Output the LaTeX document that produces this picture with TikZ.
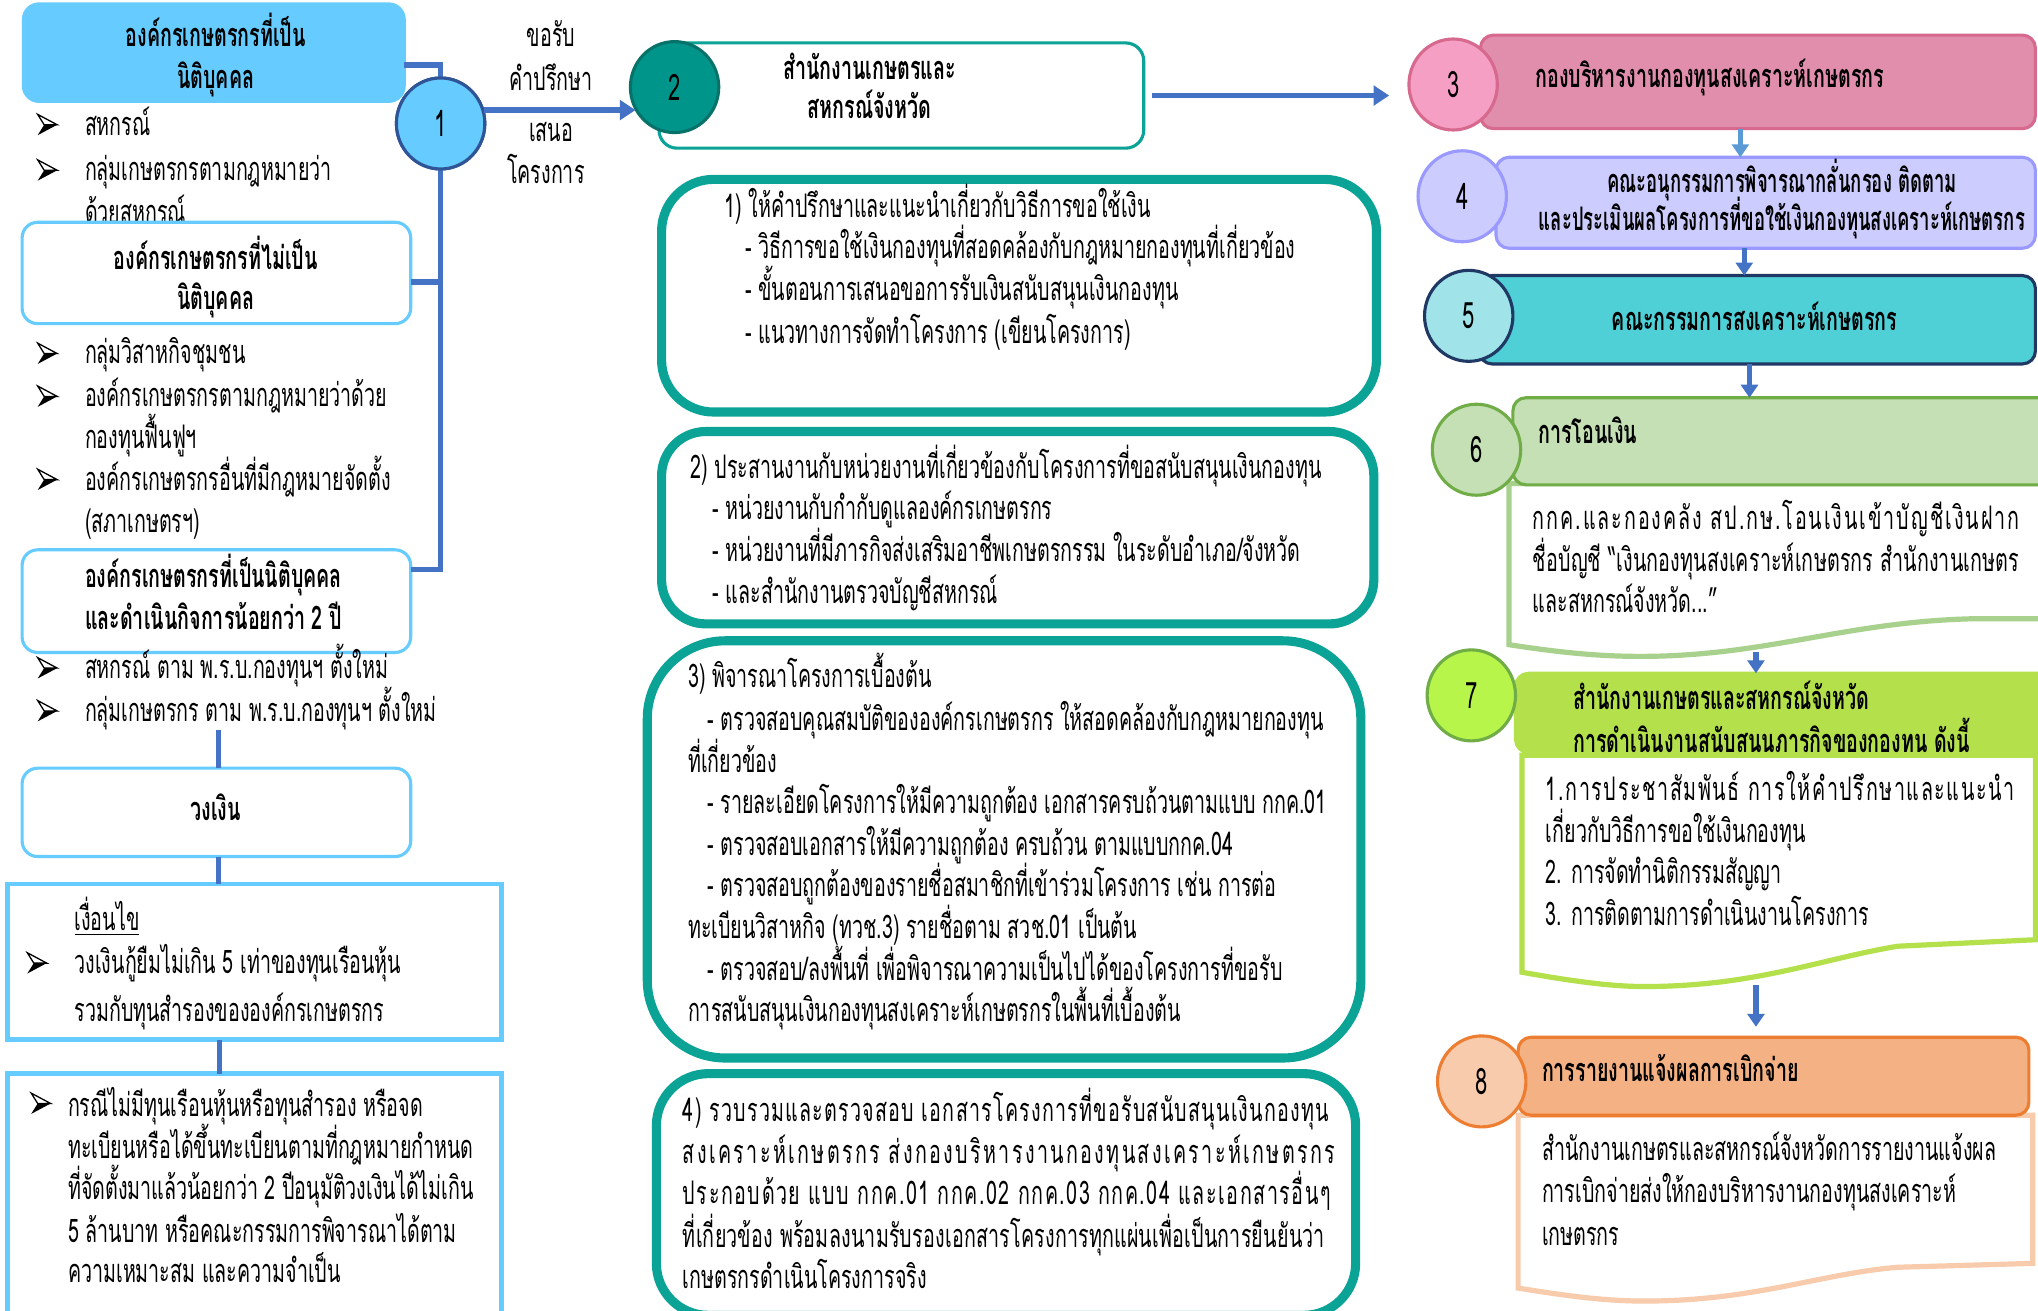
\documentclass[tikz,border=0pt]{standalone}
\usepackage{fontspec}
\setmainfont{Loma}[Script=Thai,FakeStretch=0.605]
\usetikzlibrary{shapes.geometric,arrows.meta}
\definecolor{cBlue}{HTML}{4472C4}
\definecolor{cLB}{HTML}{66CCFF}
\definecolor{cNavyC}{HTML}{2F5597}
\definecolor{cTeal}{HTML}{0AA396}
\definecolor{cTealD}{HTML}{00958A}
\definecolor{cPink}{HTML}{E08EAB}
\definecolor{cPinkB}{HTML}{D6698D}
\definecolor{cPinkC}{HTML}{F59FC4}
\definecolor{cLav}{HTML}{CCCCFF}
\definecolor{cLavB}{HTML}{9999FF}
\definecolor{cCyan}{HTML}{4FCFD6}
\definecolor{cCyanC}{HTML}{A0E4E9}
\definecolor{cNavy}{HTML}{1F3864}
\definecolor{cGr}{HTML}{C5E0B4}
\definecolor{cGrB}{HTML}{70AD47}
\definecolor{cGrL}{HTML}{A9D18E}
\definecolor{cLime}{HTML}{B3E04B}
\definecolor{cLimeC}{HTML}{B7F54B}
\definecolor{cOr}{HTML}{F4B183}
\definecolor{cOrB}{HTML}{ED7D31}
\definecolor{cOrL}{HTML}{F8CBAD}
\definecolor{cArL}{HTML}{5B9BD5}
\newcommand\fs{\fontsize{12.5}{14}\selectfont}
\newcommand\LS[2]{{\addfontfeature{LetterSpace=#1}#2}}
\newcommand\Lt[4]{\node[txt] (#1) at (#2,#3+8) {#4};}
\newcommand\Lb[4]{\node[btxt] (#1) at (#2,#3+8) {#4};}
\newcommand\Ct[4]{\node[ctxt] (#1) at (#2,#3+8) {#4};}
\newcommand\Cb[4]{\node[bctxt] (#1) at (#2,#3+8) {#4};}
\newcommand\Bx[6]{\node[#6, minimum width={(#4-(#2))*0.5pt}, minimum height={(#5-(#3))*0.5pt}] (#1) at ({(#2+#4)/2},{(#3+#5)/2}) {};}
\newcommand\Bul[2]{\draw[line width=0.5pt,fill=white] (#1+7,#2) -- (#1-8,#2-8) -- (#1-3,#2) -- cycle; \fill (#1+7,#2) -- (#1-3,#2) -- (#1-8,#2+8) -- cycle;}
\tikzset{
 txt/.style={font=\fs, inner sep=0pt, anchor=base west},
 btxt/.style={txt, font=\fs\bfseries},
 ctxt/.style={font=\fs, inner sep=0pt, anchor=base},
 bctxt/.style={ctxt, font=\fs\bfseries},
 conn/.style={line width=2pt, draw=cBlue},
 arr/.style={line width=2.2pt, draw=cBlue, -{Triangle[length=6pt,width=7.5pt]}},
 varr/.style={line width=2pt, draw=cBlue, -{Triangle[length=5pt,width=6.5pt]}},
 lbox/.style={rectangle, rounded corners=6pt, draw=cLB, line width=1.2pt, fill=white, inner sep=0pt, outer sep=0pt},
 sbox/.style={rectangle, draw=cLB, line width=1.8pt, fill=white, inner sep=0pt, outer sep=0pt},
 tbox/.style={rectangle, draw=cTeal, line width=3.5pt, fill=white, inner sep=0pt, outer sep=0pt},
 hbox/.style={rectangle, rounded corners=5pt, line width=1.2pt, inner sep=0pt, outer sep=0pt},
 num/.style={ellipse, minimum width=34pt, minimum height=35pt, inner sep=0pt, line width=1.2pt, font=\fontsize{14}{14}\selectfont},
}
\begin{document}
\begin{tikzpicture}[x=0.5pt,y=-0.5pt]
\useasboundingbox (0,0) rectangle (1568,1008);
\clip (0,0) rectangle (1568,1008);
\fill[white] (0,0) rectangle (1568,1008);

% ---------- left column ----------
\Bx{A}{18}{3}{311}{78}{lbox, fill=cLB}
\Cb{tA1}{166}{28}{องค์กรเกษตรกรที่เป็น}
\Cb{tA2}{166}{60}{นิติบุคคล}
\Bul{37}{96}\Lt{l1}{65}{96}{สหกรณ์}
\Bul{37}{131}\Lt{l2}{65}{131}{กลุ่มเกษตรกรตามกฎหมายว่า}
\Lt{l3}{65}{164}{ด้วยสหกรณ์}
\Bx{B}{17}{171}{316}{249}{lbox}
\Cb{tB1}{166}{199}{องค์กรเกษตรกรที่ไม่เป็น}
\Cb{tB2}{166}{230}{นิติบุคคล}
\Bul{37}{272}\Lt{l4}{65}{272}{กลุ่มวิสาหกิจชุมชน}
\Bul{37}{305}\Lt{l5}{65}{305}{องค์กรเกษตรกรตามกฎหมายว่าด้วย}
\Lt{l6}{65}{337}{กองทุนฟื้นฟูฯ}
\Bul{37}{369}\Lt{l7}{65}{369}{องค์กรเกษตรกรอื่นที่มีกฎหมายจัดตั้ง}
\Lt{l8}{65}{402}{(สภาเกษตรฯ)}
\Bx{C}{17}{423}{316}{502}{lbox}
\Lb{tC1}{65}{444}{องค์กรเกษตรกรที่เป็นนิติบุคคล}
\Lb{tC2}{65}{476}{และดำเนินกิจการน้อยกว่า 2 ปี}
\Bul{37}{514}\Lt{l9}{65}{514}{สหกรณ์ ตาม พ.ร.บ.กองทุนฯ ตั้งใหม่}
\Bul{37}{547}\Lt{l10}{65}{547}{กลุ่มเกษตรกร ตาม พ.ร.บ.กองทุนฯ ตั้งใหม่}
\Bx{D}{17}{591}{316}{659}{lbox}
\Cb{tD}{166}{623}{วงเงิน}
\Bx{E}{6}{680}{386}{800}{sbox}
\Lt{tE0}{57}{708}{\underline{เงื่อนไข}}
\Bul{29}{741}\Lt{tE1}{57}{741}{วงเงินกู้ยืมไม่เกิน 5 เท่าของทุนเรือนหุ้น}
\Lt{tE2}{57}{778}{รวมกับทุนสำรองขององค์กรเกษตรกร}
\Bx{F}{6}{826}{386}{1030}{sbox}
\Bul{32}{849}
\Lt{tF1}{52}{851}{กรณีไม่มีทุนเรือนหุ้นหรือทุนสำรอง หรือจด}
\Lt{tF2}{52}{883}{ทะเบียนหรือได้ขึ้นทะเบียนตามที่กฎหมายกำหนด}
\Lt{tF3}{52}{915}{ที่จัดตั้งมาแล้วน้อยกว่า 2 ปีอนุมัติวงเงินได้ไม่เกิน}
\Lt{tF4}{52}{948}{5 ล้านบาท หรือคณะกรรมการพิจารณาได้ตาม}
\Lt{tF5}{52}{979}{ความเหมาะสม และความจำเป็น}

\node[num, fill=cLB, draw=cNavyC] (c1) at (339,95) {};
% connectors of the left column
\coordinate (jC) at ([yshift=12.25pt]C.east);
\coordinate (jB) at ([yshift=-3.5pt]B.east);
\coordinate (jA) at ([yshift=-4.75pt]A.east);
\draw[conn] (jA) -| (jC -| c1) -- (jC);
\draw[conn] (jB) -- (jB -| c1);
\draw[conn] (168,562) coordinate (q1) -- (D.north -| q1);
\draw[conn] (D.south -| q1) -- (E.north -| q1);
\draw[conn] ([xshift=0.5pt]E.south -| q1) -- ([xshift=0.5pt]F.north -| q1);
\node[num, fill=cLB, draw=cNavyC] (c1b) at (339,95) {1};

% labels
\Ct{k1}{424}{28}{ขอรับ}
\Ct{k2}{424}{62}{คำปรึกษา}
\Ct{k3}{424}{101}{เสนอ}
\Ct{k4}{420}{133}{โครงการ}

% ---------- middle column ----------
\Bx{b2}{507}{33}{880}{114}{hbox, rounded corners=7pt, draw=cTeal, fill=white}
\node[num, fill=cTealD, draw=cTeal!70!black] (c2) at (519,67) {2};
\draw[arr] (c1b.17) -- (c1b.17 -| c2.212);
\Cb{t2a}{669}{53}{สำนักงานเกษตรและ}
\Cb{t2b}{669}{83}{สหกรณ์จังหวัด}

\Bx{m1}{509}{138}{1059}{317}{tbox, rounded corners=20pt}
\Lt{m1a}{557}{159}{1) ให้คำปรึกษาและแนะนำเกี่ยวกับวิธีการขอใช้เงิน}
\Lt{m1b}{573}{191}{- วิธีการขอใช้เงินกองทุนที่สอดคล้องกับกฎหมายกองทุนที่เกี่ยวข้อง}
\Lt{m1c}{573}{223}{- ขั้นตอนการเสนอขอการรับเงินสนับสนุนเงินกองทุน}
\Lt{m1d}{573}{256}{- แนวทางการจัดทำโครงการ (เขียนโครงการ)}

\Bx{m2}{509}{332}{1057}{480}{tbox, rounded corners=17pt}
\Lt{m2a}{531}{360}{2) ประสานงานกับหน่วยงานที่เกี่ยวข้องกับโครงการที่ขอสนับสนุนเงินกองทุน}
\Lt{m2b}{548}{392}{- หน่วยงานกับกำกับดูแลองค์กรเกษตรกร}
\Lt{m2c}{548}{424}{- หน่วยงานที่มีภารกิจส่งเสริมอาชีพเกษตรกรรม ในระดับอำเภอ/จังหวัด}
\Lt{m2d}{548}{456}{- และสำนักงานตรวจบัญชีสหกรณ์}

\Bx{m3}{498}{493}{1047}{814}{tbox, rounded corners=30pt}
\Lt{m3a}{529}{521}{3) พิจารณาโครงการเบื้องต้น}
\Lt{m3b}{544}{554}{- ตรวจสอบคุณสมบัติขององค์กรเกษตรกร ให้สอดคล้องกับกฎหมายกองทุน}
\Lt{m3c}{529}{586}{ที่เกี่ยวข้อง}
\Lt{m3d}{544}{618}{- รายละเอียดโครงการให้มีความถูกต้อง เอกสารครบถ้วนตามแบบ กกค.01}
\Lt{m3e}{544}{650}{- ตรวจสอบเอกสารให้มีความถูกต้อง ครบถ้วน ตามแบบกกค.04}
\Lt{m3f}{544}{682}{- ตรวจสอบถูกต้องของรายชื่อสมาชิกที่เข้าร่วมโครงการ เช่น การต่อ}
\Lt{m3g}{529}{714}{ทะเบียนวิสาหกิจ (ทวช.3) รายชื่อตาม สวช.01 เป็นต้น}
\Lt{m3h}{544}{746}{- ตรวจสอบ/ลงพื้นที่ เพื่อพิจารณาความเป็นไปได้ของโครงการที่ขอรับ}
\Lt{m3i}{529}{778}{การสนับสนุนเงินกองทุนสงเคราะห์เกษตรกรในพื้นที่เบื้องต้น}

\Bx{m4}{505}{826}{1043}{1012}{tbox, rounded corners=20pt}
\Lt{m4a}{525}{855}{\LS{3.8}{4) รวบรวมและตรวจสอบ เอกสารโครงการที่ขอรับสนับสนุนเงินกองทุน}}
\Lt{m4b}{525}{887}{\LS{7.3}{สงเคราะห์เกษตรกร ส่งกองบริหารงานกองทุนสงเคราะห์เกษตรกร}}
\Lt{m4c}{525}{919}{\LS{4.8}{ประกอบด้วย แบบ กกค.01 กกค.02 กกค.03 กกค.04 และเอกสารอื่นๆ}}
\Lt{m4d}{525}{952}{\LS{0.6}{ที่เกี่ยวข้อง พร้อมลงนามรับรองเอกสารโครงการทุกแผ่นเพื่อเป็นการยืนยันว่า}}
\Lt{m4e}{525}{983}{เกษตรกรดำเนินโครงการจริง}

% ---------- right column ----------
\Bx{b3}{1139}{27}{1566}{99}{hbox, fill=cPink, draw=cPinkB}
\node[num, fill=cPinkC, draw=cPinkB] (c3) at (1118,65) {3};
\Lb{t3}{1181}{59}{กองบริหารงานกองทุนสงเคราะห์เกษตรกร}
\draw[arr] ([xshift=3pt]b2.east) -- ([xshift=-7pt]c3.west |- b2.east);

\Bx{b4}{1151}{121}{1566}{191}{hbox, fill=cLav, draw=cLavB}
\node[num, fill=cLav, draw=cLavB] (c4) at (1125,151) {4};
\Cb{t4a}{1371}{140}{\resizebox{134.5pt}{\height}{คณะอนุกรรมการพิจารณากลั่นกรอง ติดตาม}}
\Cb{t4b}{1371}{169}{\resizebox{187pt}{\height}{และประเมินผลโครงการที่ขอใช้เงินกองทุนสงเคราะห์เกษตรกร}}
\coordinate (x34) at (1339,0);
\draw[varr, draw=cArL] (b3.south -| x34) -- (b4.north -| x34);

\Bx{b5}{1138}{212}{1566}{280}{hbox, fill=cCyan, draw=cNavy}
\node[num, fill=cCyanC, draw=cNavy] (c5) at (1130,243) {5};
\Cb{t5}{1350}{246}{คณะกรรมการสงเคราะห์เกษตรกร}
\coordinate (x45) at (1342,0);
\draw[varr] (b4.south -| x45) -- (b5.north -| x45);

% box 6
\draw[cGrL, line width=2pt, fill=white] (1161,372) -- (1161,496)
  .. controls (1200,502) and (1230,505) .. (1262,505)
  .. controls (1360,505) and (1420,478) .. (1520,476) -- (1590,476) -- (1590,372) -- cycle;
\coordinate (w6) at (1351,502);
\Bx{b6}{1164}{306}{1590}{373}{hbox, fill=cGr, draw=cGrB}
\node[num, fill=cGr, draw=cGrB] (c6) at (1136,346) {6};
\Lb{t6}{1183}{333}{การโอนเงิน}
\Lt{t6a}{1179}{399}{\LS{6}{กกค.และกองคลัง สป.กษ.โอนเงินเข้าบัญชีเงินฝาก}}
\Lt{t6b}{1179}{432}{\LS{0.5}{ชื่อบัญชี “เงินกองทุนสงเคราะห์เกษตรกร สำนักงานเกษตร}}
\Lt{t6c}{1179}{463}{และสหกรณ์จังหวัด...”}
\coordinate (x56) at (1346,0);
\draw[varr] (b5.south -| x56) -- (b6.north -| x56);

% box 7
\Bx{b7}{1166}{518}{1590}{579}{hbox, fill=cLime, draw=cLime}
\node[num, fill=cLimeC, draw=cGrB] (c7) at (1132,535) {7};
\Lb{t7a}{1210}{538}{สำนักงานเกษตรและสหกรณ์จังหวัด}
\Lb{t7b}{1210}{571}{การดำเนินงานสนับสนุนภารกิจของกองทุน ดังนี้}
\draw[varr] (w6) -- (b7.north -| w6);
\draw[cLime, line width=2pt, fill=white] (1171,581) -- (1171,748)
  .. controls (1210,755) and (1240,759) .. (1265,759)
  .. controls (1350,759) and (1400,738) .. (1460,728) -- (1566,723) -- (1566,581) -- cycle;
\coordinate (w7) at (1351,758);
\Lt{t7c}{1189}{608}{\LS{5}{1.การประชาสัมพันธ์ การให้คำปรึกษาและแนะนำ}}
\Lt{t7d}{1189}{640}{เกี่ยวกับวิธีการขอใช้เงินกองทุน}
\Lt{t7e}{1189}{672}{2. การจัดทำนิติกรรมสัญญา}
\Lt{t7f}{1189}{704}{3. การติดตามการดำเนินงานโครงการ}

% box 8
\draw[cOrL, line width=2pt, fill=white] (1168,858) -- (1168,991)
  .. controls (1205,997) and (1235,1001) .. (1265,1001)
  .. controls (1350,1001) and (1400,980) .. (1460,975) -- (1564,972) -- (1564,858) -- cycle;
\Bx{b8}{1168}{798}{1561}{858}{hbox, fill=cOr, draw=cOrB}
\node[num, fill=cOrL, draw=cOrB] (c8) at (1140,832) {8};
\Lb{t8}{1186}{824}{การรายงานแจ้งผลการเบิกจ่าย}
\Lt{t8a}{1186}{885}{สำนักงานเกษตรและสหกรณ์จังหวัดการรายงานแจ้งผล}
\Lt{t8b}{1186}{917}{การเบิกจ่ายส่งให้กองบริหารงานกองทุนสงเคราะห์}
\Lt{t8c}{1186}{950}{เกษตรกร}
\draw[varr, shorten >=4pt] (w7) -- (b8.north -| w7);
\end{tikzpicture}
\end{document}
